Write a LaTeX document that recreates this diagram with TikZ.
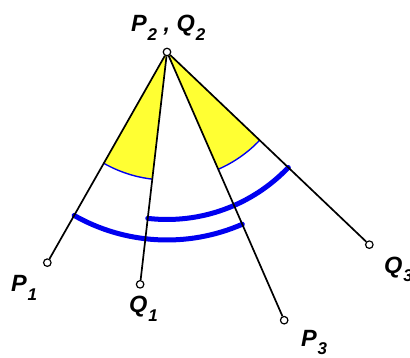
\documentclass[tikz,border=0pt]{standalone}
\usepackage{fontspec}
\setmainfont{Liberation Sans}
\definecolor{secyellow}{RGB}{255,255,51}
\definecolor{arcblue}{RGB}{0,0,240}
\newcommand\lbl[2]{#1\/\kern0.8pt\raisebox{-8.5pt}{\fontsize{17}{17}\selectfont #2}}
\begin{document}
\begin{tikzpicture}[x=1pt,y=1pt,
  ray/.style={line width=1.7pt,black},
  pt/.style={circle,draw=black,fill=white,line width=1.2pt,inner sep=0pt,minimum size=7.5pt},
  thinarc/.style={arcblue,line width=1.4pt},
  thickarc/.style={arcblue,line width=5pt,line cap=round},
  lab/.style={inner sep=0pt,anchor=base west,font=\fontsize{23.5}{23.5}\selectfont\bfseries\itshape}]
\useasboundingbox (0,0) rectangle (410,358);
\coordinate (O) at (167,306);
\begin{scope}[shift={(O)}]
  \coordinate (P1) at (240.4:242.3pt);
  \coordinate (Q1) at (263.4:233.9pt);
  \coordinate (P3) at (293.6:292.7pt);
  \coordinate (Q3) at (316.4:279.4pt);
  % yellow sectors
  \fill[secyellow] (0,0) -- (240.4:128pt) arc[start angle=240.4,end angle=263.4,radius=128pt] -- cycle;
  \fill[secyellow] (0,0) -- (293.6:128pt) arc[start angle=293.6,end angle=316.4,radius=128pt] -- cycle;
  \draw[thinarc] (240.4:128pt) arc[start angle=240.4,end angle=263.4,radius=128pt];
  \draw[thinarc] (293.6:128pt) arc[start angle=293.6,end angle=316.4,radius=128pt];
  % thick arcs
  \draw[thickarc] (240.4:188pt) arc[start angle=240.4,end angle=293.6,radius=188pt];
  \draw[thickarc] (263.4:167.5pt) arc[start angle=263.4,end angle=316.4,radius=167.5pt];
\end{scope}
\node[pt] (o) at (O) {};
\node[pt] (p1) at (P1) {};
\node[pt] (q1) at (Q1) {};
\node[pt] (p3) at (P3) {};
\node[pt] (q3) at (Q3) {};
\draw[ray] (o) -- (p1);
\draw[ray] (o) -- (q1);
\draw[ray] (o) -- (p3);
\draw[ray] (o) -- (q3);
\node[lab] (lo) at (131,326.3) {\lbl{P}{2}\ ,\ \lbl{Q}{2}};
\node[lab] (lp1) at (11,66.3) {\lbl{P}{1}};
\node[lab] (lq1) at (129,45) {\lbl{Q}{1}};
\node[lab] (lp3) at (301,11.5) {\lbl{P}{3}};
\node[lab] (lq3) at (384,84.7) {\lbl{Q}{3}};
\end{tikzpicture}
\end{document}
